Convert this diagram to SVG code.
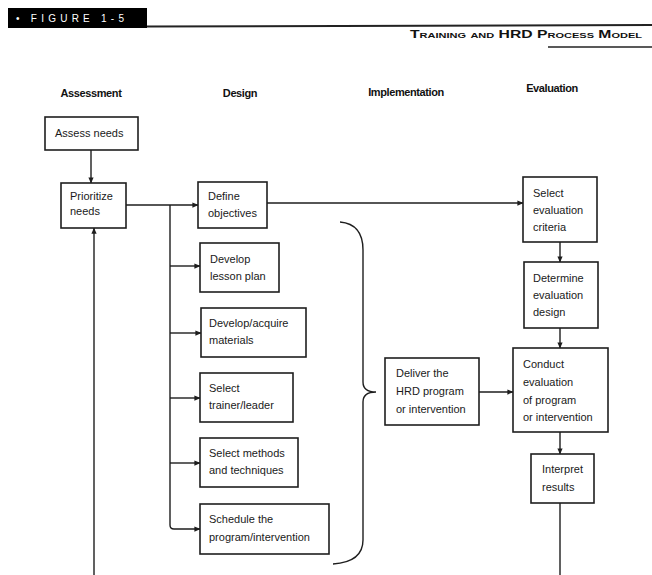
<svg xmlns="http://www.w3.org/2000/svg" width="652" height="575" viewBox="0 0 652 575">
<style>
.bx{fill:#fff;stroke:#1e1e1e;stroke-width:1.6}
.t{font-family:"Liberation Sans",Arial,sans-serif;font-size:11px;fill:#1a1a1a}
.h{font-family:"Liberation Sans",Arial,sans-serif;font-size:11px;font-weight:bold;fill:#111;text-anchor:middle;letter-spacing:-0.4px}
.c{fill:none;stroke:#1e1e1e;stroke-width:1.4}
</style>
<defs>
<marker id="ar" viewBox="0 0 8 8" refX="7.5" refY="4" markerWidth="6" markerHeight="6" orient="auto" markerUnits="userSpaceOnUse">
<path d="M0,0.5 L8,4 L0,7.5 Z" fill="#1e1e1e"/>
</marker>
</defs>
<rect width="652" height="575" fill="#fff"/>
<g id="header">
<rect x="8" y="8" width="139" height="20" fill="#000"/>
<text x="16" y="22" font-family="'Liberation Sans',Arial,sans-serif" font-size="10" fill="#fff" textLength="108" lengthAdjust="spacing">• FIGURE 1-5</text>
<line x1="147" y1="26.5" x2="652" y2="25" stroke="#222" stroke-width="2"/>
<text x="410" y="38" font-family="'Liberation Sans',Arial,sans-serif" font-size="10" font-weight="bold" font-variant="small-caps" fill="#111" textLength="232" lengthAdjust="spacingAndGlyphs">Training and HRD Process Model</text>
<line x1="548" y1="47" x2="652" y2="47" stroke="#222" stroke-width="1.5"/>
</g>
<g id="column-headers">
<text class="h" x="91" y="97">Assessment</text>
<text class="h" x="240" y="97">Design</text>
<text class="h" x="406" y="96">Implementation</text>
<text class="h" x="552" y="92">Evaluation</text>
</g>
<g id="connectors">
<line class="c" x1="91" y1="150" x2="91" y2="183" marker-end="url(#ar)"/>
<line class="c" x1="126" y1="205" x2="198" y2="205" marker-end="url(#ar)"/>
<path class="c" d="M170,205 L170,525 Q170,529 174,529 L200,529" marker-end="url(#ar)"/>
<line class="c" x1="170" y1="266" x2="200" y2="266" marker-end="url(#ar)"/>
<line class="c" x1="170" y1="333" x2="201" y2="333" marker-end="url(#ar)"/>
<line class="c" x1="170" y1="398" x2="200" y2="398" marker-end="url(#ar)"/>
<line class="c" x1="170" y1="463" x2="200" y2="463" marker-end="url(#ar)"/>
<line class="c" x1="267" y1="203" x2="523" y2="203" marker-end="url(#ar)"/>
<line class="c" x1="560" y1="242" x2="560" y2="262" marker-end="url(#ar)"/>
<line class="c" x1="560" y1="328" x2="560" y2="348" marker-end="url(#ar)"/>
<line class="c" x1="479" y1="392" x2="513" y2="392" marker-end="url(#ar)"/>
<line class="c" x1="560" y1="432" x2="560" y2="454" marker-end="url(#ar)"/>
<line class="c" x1="560" y1="503" x2="560" y2="575"/>
<line class="c" x1="94" y1="575" x2="94" y2="228" marker-end="url(#ar)"/>
<path class="c" d="M340,222 Q363,224 363,250 L363,382 Q363,392 376,392 Q363,392 363,402 L363,540 Q363,562 333,564"/>
</g>
<g id="assess-needs">
<rect class="bx" x="45" y="117" width="93" height="33"/>
<text class="t" x="55" y="137">Assess needs</text>
</g>
<g id="prioritize-needs">
<rect class="bx" x="61" y="183" width="65" height="45"/>
<text class="t" x="70" y="200">Prioritize</text>
<text class="t" x="70" y="215">needs</text>
</g>
<g id="define-objectives">
<rect class="bx" x="198" y="182" width="69" height="46"/>
<text class="t" x="208" y="200">Define</text>
<text class="t" x="208" y="217">objectives</text>
</g>
<g id="develop-lesson-plan">
<rect class="bx" x="200" y="243" width="79" height="49"/>
<text class="t" x="210" y="263">Develop</text>
<text class="t" x="210" y="280">lesson plan</text>
</g>
<g id="develop-materials">
<rect class="bx" x="201" y="308" width="105" height="49"/>
<text class="t" x="209" y="327">Develop/acquire</text>
<text class="t" x="209" y="344">materials</text>
</g>
<g id="select-trainer">
<rect class="bx" x="200" y="373" width="93" height="49"/>
<text class="t" x="209" y="392">Select</text>
<text class="t" x="209" y="409">trainer/leader</text>
</g>
<g id="select-methods">
<rect class="bx" x="200" y="438" width="98" height="49"/>
<text class="t" x="209" y="457">Select methods</text>
<text class="t" x="209" y="474">and techniques</text>
</g>
<g id="schedule-program">
<rect class="bx" x="200" y="504" width="129" height="50"/>
<text class="t" x="209" y="523">Schedule the</text>
<text class="t" x="209" y="541">program/intervention</text>
</g>
<g id="deliver-program">
<rect class="bx" x="385" y="358" width="94" height="67"/>
<text class="t" x="396" y="377">Deliver the</text>
<text class="t" x="396" y="395">HRD program</text>
<text class="t" x="396" y="413">or intervention</text>
</g>
<g id="select-criteria">
<rect class="bx" x="523" y="177" width="74" height="65"/>
<text class="t" x="533" y="197">Select</text>
<text class="t" x="533" y="214">evaluation</text>
<text class="t" x="533" y="231">criteria</text>
</g>
<g id="determine-design">
<rect class="bx" x="524" y="262" width="74" height="66"/>
<text class="t" x="533" y="282">Determine</text>
<text class="t" x="533" y="299">evaluation</text>
<text class="t" x="533" y="316">design</text>
</g>
<g id="conduct-evaluation">
<rect class="bx" x="513" y="348" width="95" height="84"/>
<text class="t" x="523" y="368">Conduct</text>
<text class="t" x="523" y="386">evaluation</text>
<text class="t" x="523" y="404">of program</text>
<text class="t" x="523" y="421">or intervention</text>
</g>
<g id="interpret-results">
<rect class="bx" x="531" y="454" width="63" height="49"/>
<text class="t" x="542" y="473">Interpret</text>
<text class="t" x="542" y="491">results</text>
</g>
</svg>
